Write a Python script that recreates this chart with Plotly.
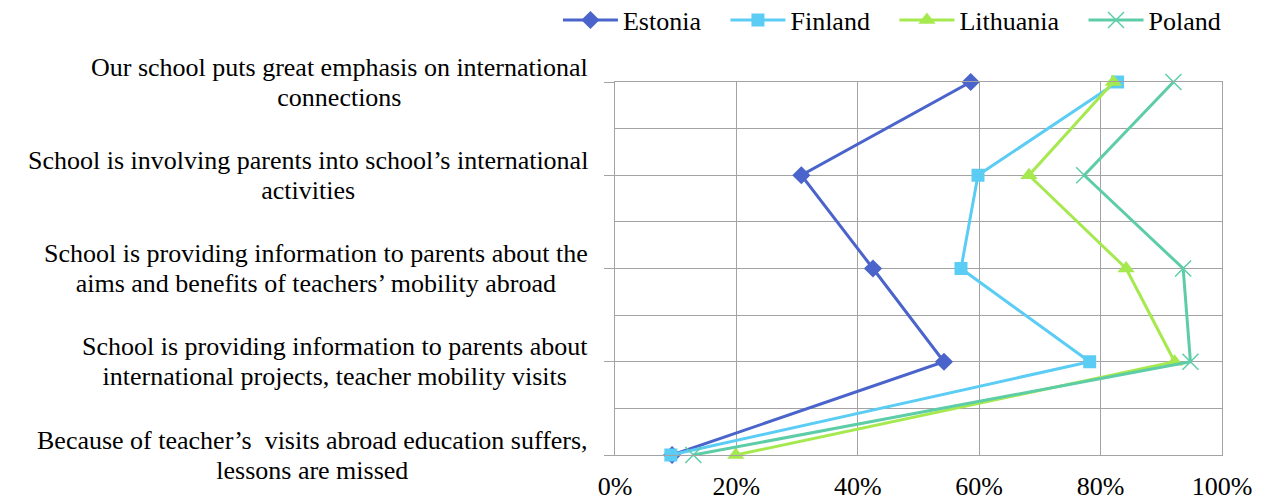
import plotly.graph_objects as go

categories = [
    "Our school puts great emphasis on international<br>connections",
    "School is involving parents into school’s international<br>activities",
    "School is providing information to parents about the<br>aims and benefits of teachers’ mobility abroad",
    "School is providing information to parents about<br>international projects, teacher mobility visits",
    "Because of teacher’s  visits abroad education suffers,<br>lessons are missed",
]
cat_pos = [4, 3, 2, 1, 0]

estonia = [58.6, 30.7, 42.5, 54.2, 9.4]
finland = [82.8, 59.8, 57.0, 78.2, 9.2]
lithuania = [82.1, 68.2, 84.2, 92.2, 19.9]
poland = [92.0, 77.3, 93.6, 94.8, 12.9]

x_ticks = [0, 20, 40, 60, 80, 100]
x_tick_labels = ["0%", "20%", "40%", "60%", "80%", "100%"]

series = [
    ("Estonia", estonia, "#4A64CB", "diamond", 14),
    ("Finland", finland, "#5BCDF5", "square", 13),
    ("Lithuania", lithuania, "#A6E94F", "triangle-up", 15),
    ("Poland", poland, "#5DCDA8", "x-thin", 16),
]

FONT = "Liberation Serif"
GRID = "#A3A3A3"
FS = 26
PAD = "\u00a0" * 3

fig = go.Figure()
for i, (name, vals, color, sym, size) in enumerate(series):
    label = name + (PAD if i < len(series) - 1 else "")
    fig.add_trace(go.Scatter(
        x=vals, y=cat_pos, name=label, mode="lines+markers",
        line=dict(color=color, width=3),
        marker=dict(symbol=sym, size=size, color=color,
                    line=dict(color=color, width=1.5 if sym == "x-thin" else 0)),
        cliponaxis=False,
    ))

for lab, pos in zip(categories, cat_pos):
    lines = lab.split("<br>")
    txt = "<br>".join(f'<span style="font-size:{FS}px">{ln}</span>' for ln in lines)
    fig.add_annotation(
        text=txt, x=0, xref="paper", y=pos, yref="y",
        xanchor="right", yanchor="middle", align="center",
        xshift=-25, showarrow=False,
        font=dict(family=FONT, size=23, color="black"),
    )

fig.update_layout(
    width=1270, height=499,
    margin=dict(l=607, r=56, t=74, b=52, autoexpand=False),
    paper_bgcolor="white", plot_bgcolor="white",
    font=dict(family=FONT, size=FS, color="black"),
    showlegend=True,
    legend=dict(orientation="h", xref="paper", yref="paper",
                x=-0.094, xanchor="left", y=1.166, yanchor="middle",
                font=dict(family=FONT, size=FS), itemwidth=55, bgcolor="rgba(0,0,0,0)"),
    xaxis=dict(range=[0, 100], tickvals=x_ticks, ticktext=x_tick_labels,
               tickfont=dict(family=FONT, size=FS), ticklabelstandoff=8,
               showgrid=True, gridcolor=GRID, gridwidth=1.3,
               showline=True, linecolor=GRID, linewidth=1.3, mirror=True,
               zeroline=False, ticks="", fixedrange=True, automargin=False),
    yaxis=dict(range=[0, 4], tickvals=cat_pos, showticklabels=False,
               showgrid=True, gridcolor=GRID, gridwidth=1.3,
               showline=True, linecolor=GRID, linewidth=1.3, mirror=True,
               zeroline=False, ticks="outside", ticklen=10, tickcolor=GRID, tickwidth=1.3,
               automargin=False,
               minor=dict(tickvals=[0.5, 1.5, 2.5, 3.5], showgrid=True,
                          gridcolor=GRID, gridwidth=1.3, ticks="")),
)

fig.write_html("out.html")
